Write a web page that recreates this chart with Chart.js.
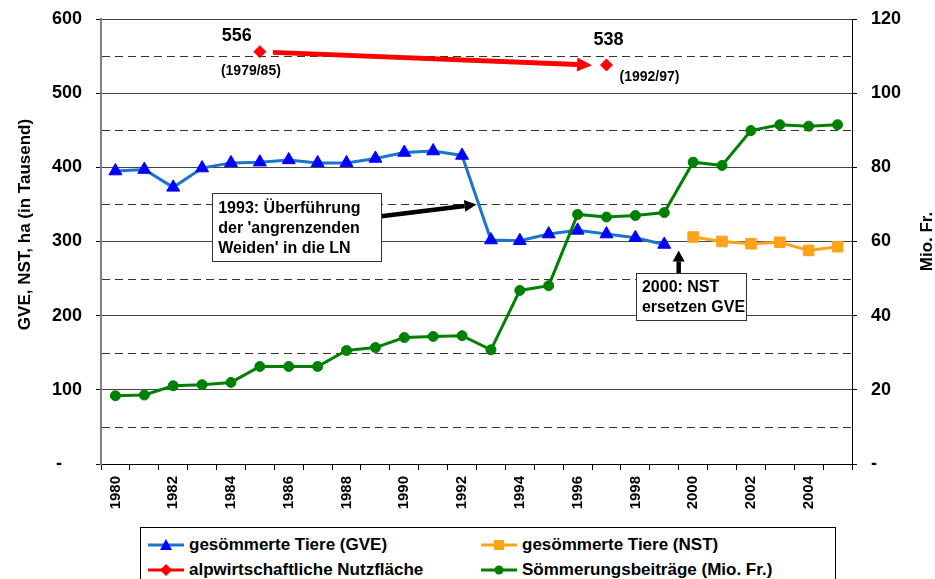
<!DOCTYPE html>
<html lang="de">
<head>
<meta charset="utf-8">
<title>Sömmerung 1980-2005</title>
<script src="https://cdn.jsdelivr.net/npm/chart.js@4.4.0/dist/chart.umd.min.js"></script>
<style>
    html, body { margin: 0; padding: 0; background: #fff; overflow: hidden; }
    #wrap { position: relative; width: 935px; height: 579px; }
    #legend {
        position: absolute; left: 140px; top: 527px; width: 696px; height: 70px;
        box-sizing: border-box; border: 1px solid #000; background: #fff;
        display: grid; grid-template-columns: 333px auto; grid-auto-rows: 25px;
        padding: 4px 0 0 7px;
        font: bold 17px 'Liberation Sans', Arial, sans-serif; color: #000;
    }
    .item { display: flex; align-items: center; white-space: nowrap; }
    .item svg { margin-right: 5px; }
</style>
</head>
<body>
<div id="wrap">
    <canvas id="chart" width="935" height="579"></canvas>
    <div id="legend"></div>
</div>
<script>
// Data
const years = ['1980', '1981', '1982', '1983', '1984', '1985', '1986', '1987', '1988', '1989',
               '1990', '1991', '1992', '1993', '1994', '1995', '1996', '1997', '1998', '1999',
               '2000', '2001', '2002', '2003', '2004', '2005'];

// gesömmerte Tiere (GVE), in Tausend
const gveValues = [395, 397, 373, 399, 406, 407, 410, 406, 406, 412,
                   420, 422, 416, 302, 301, 310, 315, 310, 305, 296,
                   null, null, null, null, null, null];

// gesömmerte Tiere (NST), in Tausend
const nstValues = [null, null, null, null, null, null, null, null, null, null,
                   null, null, null, null, null, null, null, null, null, null,
                   306, 300, 297, 299, 288, 293];

// alpwirtschaftliche Nutzfläche, ha in Tausend (1979/85 and 1992/97)
const areaValues = [null, null, null, null, null, 556, null, null, null, null,
                    null, null, null, null, null, null, null, 538, null, null,
                    null, null, null, null, null, null];
const areaPeriods = ['(1979/85)', '(1992/97)'];

// Sömmerungsbeiträge, Mio. Fr.
const subsidyValues = [18.4, 18.6, 21.1, 21.4, 22.0, 26.3, 26.3, 26.3, 30.6, 31.4,
                       34.1, 34.4, 34.6, 30.8, 46.8, 48.1, 67.3, 66.6, 67.0, 67.8,
                       81.4, 80.5, 89.9, 91.5, 91.1, 91.5];

const seriesLabels = ['gesömmerte Tiere (GVE)', 'gesömmerte Tiere (NST)',
                      'alpwirtschaftliche Nutzfläche', 'Sömmerungsbeiträge (Mio. Fr.)'];

const leftTitle = 'GVE, NST, ha (in Tausend)';
const rightTitle = 'Mio. Fr.';
const minorGridValues = [50, 150, 250, 350, 450, 550];

const noteGve = ['1993: Überführung', "der 'angrenzenden", "Weiden' in die LN"];
const noteNst = ['2000: NST', 'ersetzen GVE'];

const FONT = "'Liberation Sans', Arial, sans-serif";
Chart.defaults.font.family = FONT;
Chart.defaults.color = '#000';

function drawArrow(ctx, x1, y1, x2, y2, width, headLen, headWidth, color) {
    const ang = Math.atan2(y2 - y1, x2 - x1);
    const bx = x2 - headLen * Math.cos(ang);
    const by = y2 - headLen * Math.sin(ang);
    ctx.save();
    ctx.strokeStyle = color;
    ctx.fillStyle = color;
    ctx.lineWidth = width;
    ctx.beginPath();
    ctx.moveTo(x1, y1);
    ctx.lineTo(bx, by);
    ctx.stroke();
    ctx.beginPath();
    ctx.moveTo(x2, y2);
    ctx.lineTo(bx + headWidth / 2 * Math.sin(ang), by - headWidth / 2 * Math.cos(ang));
    ctx.lineTo(bx - headWidth / 2 * Math.sin(ang), by + headWidth / 2 * Math.cos(ang));
    ctx.closePath();
    ctx.fill();
    ctx.restore();
}

function drawNote(ctx, x, y, w, h, lines, firstBase, lineGap) {
    ctx.save();
    ctx.fillStyle = '#fff';
    ctx.fillRect(x, y, w, h);
    ctx.strokeStyle = '#333';
    ctx.lineWidth = 1;
    ctx.strokeRect(Math.round(x) + 0.5, Math.round(y) + 0.5, w, h);
    ctx.fillStyle = '#000';
    ctx.font = 'bold 16px ' + FONT;
    ctx.textAlign = 'left';
    ctx.textBaseline = 'alphabetic';
    lines.forEach((t, i) => ctx.fillText(t, x + 6, y + firstBase + i * lineGap));
    ctx.restore();
}

// dashed half-step grid lines
const minorGrid = {
    id: 'minorGrid',
    beforeDatasetsDraw(chart) {
        const {ctx, chartArea, scales} = chart;
        ctx.save();
        ctx.strokeStyle = '#333';
        ctx.lineWidth = 1;
        ctx.setLineDash([8, 5]);
        minorGridValues.forEach(v => {
            const y = Math.round(scales.y.getPixelForValue(v)) + 0.5;
            ctx.beginPath();
            ctx.moveTo(chartArea.left + 1, y);
            ctx.lineTo(chartArea.right, y);
            ctx.stroke();
        });
        ctx.restore();
    }
};

// axis titles, notes, arrows and labels
const extras = {
    id: 'extras',
    afterDatasetsDraw(chart) {
        const {ctx, chartArea, scales} = chart;
        const xs = scales.x, ys = scales.y;
        const mid = (chartArea.top + chartArea.bottom) / 2;

        ctx.save();
        ctx.fillStyle = '#000';
        ctx.font = 'bold 17px ' + FONT;
        ctx.textAlign = 'center';
        ctx.textBaseline = 'middle';
        ctx.translate(25, mid - 17);
        ctx.rotate(-Math.PI / 2);
        ctx.fillText(leftTitle, 0, 0);
        ctx.restore();

        ctx.save();
        ctx.fillStyle = '#000';
        ctx.font = 'bold 17px ' + FONT;
        ctx.textAlign = 'center';
        ctx.textBaseline = 'middle';
        ctx.translate(927, mid);
        ctx.rotate(-Math.PI / 2);
        ctx.fillText(rightTitle, 0, 0);
        ctx.restore();

        // red arrow between the two area points
        drawArrow(ctx, xs.getPixelForValue(5.45), ys.getPixelForValue(555),
                  xs.getPixelForValue(16.5), ys.getPixelForValue(537.7), 5, 15, 14, '#ff0000');

        // area value labels
        const pts = chart.getDatasetMeta(2).data;
        const p1 = pts[5], p2 = pts[17];
        ctx.save();
        ctx.fillStyle = '#000';
        ctx.textAlign = 'center';
        ctx.textBaseline = 'middle';
        ctx.font = 'bold 18px ' + FONT;
        ctx.fillText(String(areaValues[5]), p1.x - 23, p1.y - 16);
        ctx.fillText(String(areaValues[17]), p2.x + 2, p2.y - 25);
        ctx.font = 'bold 14px ' + FONT;
        ctx.fillText(areaPeriods[0], p1.x - 9, p1.y + 20);
        ctx.fillText(areaPeriods[1], p2.x + 43, p2.y + 12);
        ctx.restore();

        // note 1993
        const n1x = xs.getPixelForValue(3.35), n1y = ys.getPixelForValue(365);
        drawArrow(ctx, n1x + 169, n1y + 23, xs.getPixelForValue(12.5), ys.getPixelForValue(350), 4.5, 12, 12, '#000');
        drawNote(ctx, n1x, n1y, 169, 68, noteGve, 20, 19.7);

        // note 2000
        const n2x = xs.getPixelForValue(18.02), n2y = ys.getPixelForValue(257);
        const tipX = xs.getPixelForValue(19.5);
        drawArrow(ctx, tipX, n2y, tipX, ys.getPixelForValue(288), 4.5, 11, 12, '#000');
        drawNote(ctx, n2x, n2y, 110, 47, noteNst, 18.5, 20);
    }
};

const datasets = [
    {
        label: seriesLabels[0], data: gveValues, yAxisID: 'y', order: 2,
        borderColor: '#1a75cf', borderWidth: 3,
        pointStyle: 'triangle', pointRadius: 7.5,
        pointBackgroundColor: '#0000ff', pointBorderColor: '#0000ff', pointBorderWidth: 1
    },
    {
        label: seriesLabels[1], data: nstValues, yAxisID: 'y', order: 3,
        borderColor: '#ffa31a', borderWidth: 3,
        pointStyle: 'rect', pointRadius: 7.5,
        pointBackgroundColor: '#ffa31a', pointBorderColor: '#ffa31a', pointBorderWidth: 1
    },
    {
        label: seriesLabels[2], data: areaValues, yAxisID: 'y', order: 0,
        borderColor: '#ff0000', borderWidth: 3, showLine: false,
        pointStyle: 'rectRot', pointRadius: 6,
        pointBackgroundColor: '#ff0000', pointBorderColor: '#ff0000', pointBorderWidth: 1
    },
    {
        label: seriesLabels[3], data: subsidyValues, yAxisID: 'y1', order: 1,
        borderColor: '#008000', borderWidth: 3,
        pointStyle: 'circle', pointRadius: 5,
        pointBackgroundColor: '#008000', pointBorderColor: '#008000', pointBorderWidth: 1
    }
];

// fixed axis widths; drop the label overflow padding so the plot top sits where the reference has it
function fitVertical(width) {
    return s => {
        s.width = width;
        s.paddingTop = 0;
        s.paddingBottom = 0;
    };
}

const chart = new Chart(document.getElementById('chart'), {
    type: 'line',
    data: { labels: years, datasets: datasets },
    options: {
        responsive: false,
        animation: false,
        layout: { padding: { top: 19, left: 0, right: 0, bottom: 0 } },
        elements: { line: { tension: 0 } },
        plugins: {
            legend: { display: false },
            tooltip: { enabled: false }
        },
        scales: {
            x: {
                type: 'category',
                offset: true,
                grid: { offset: true, drawOnChartArea: false, tickLength: 6, color: '#000' },
                border: { color: '#000', width: 1 },
                ticks: {
                    autoSkip: false, minRotation: 90, maxRotation: 90, padding: 6,
                    font: { size: 15, weight: 'bold' },
                    callback: (v, i) => (i % 2 === 0 ? years[i] : '')
                },
                afterFit: s => { s.height = 115; }
            },
            y: {
                position: 'left',
                min: 0, max: 600,
                ticks: {
                    stepSize: 100, padding: 14,
                    font: { size: 18, weight: 'bold' },
                    callback: v => (v === 0 ? '-    ' : v)
                },
                grid: { color: '#444', tickLength: 5, tickColor: '#000' },
                border: { color: '#808080', width: 2 },
                afterFit: fitVertical(101)
            },
            y1: {
                position: 'right',
                min: 0, max: 120,
                ticks: {
                    stepSize: 20, padding: 14,
                    font: { size: 18, weight: 'bold' },
                    callback: v => (v === 0 ? '-' : v)
                },
                grid: { drawOnChartArea: false, tickLength: 5, tickColor: '#000' },
                border: { color: '#000', width: 1 },
                afterFit: fitVertical(83)
            }
        }
    },
    plugins: [minorGrid, extras]
});

// HTML legend in two columns
function markerSvg(ds) {
    const c = ds.pointBackgroundColor;
    let shape = '';
    if (ds.pointStyle === 'triangle') shape = `<polygon points="18,1 24,12 12,12" fill="${c}"/>`;
    else if (ds.pointStyle === 'rect') shape = `<rect x="13" y="2" width="10" height="10" fill="${c}"/>`;
    else if (ds.pointStyle === 'rectRot') shape = `<polygon points="18,1 24,7 18,13 12,7" fill="${c}"/>`;
    else shape = `<circle cx="18" cy="7" r="4.5" fill="${c}"/>`;
    return `<svg width="36" height="14" viewBox="0 0 36 14">
        <line x1="0" y1="7" x2="36" y2="7" stroke="${ds.borderColor}" stroke-width="3"/>${shape}</svg>`;
}

document.getElementById('legend').innerHTML = chart.data.datasets.map(ds =>
    `<div class="item">${markerSvg(ds)}<span>${ds.label}</span></div>`
).join('');
</script>
</body>
</html>
